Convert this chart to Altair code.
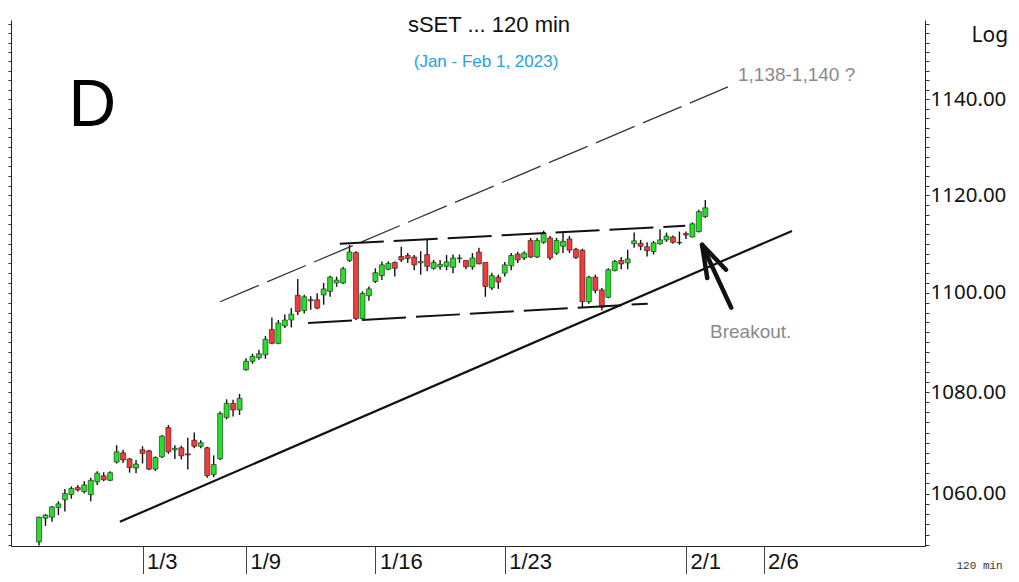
import altair as alt
import pandas as pd

# ---------------- data (120-min bars) ----------------
opens = [1050.6, 1055.2, 1055.4, 1057.3, 1058.8, 1059.8, 1061.2, 1060.4, 1059.8, 1062.3, 1063.5, 1062.6,
         1066.2, 1068.0, 1066.8, 1065.0, 1068.6, 1068.4, 1064.8, 1067.2, 1073.0, 1068.6, 1069.0, 1067.8,
         1070.5, 1069.3, 1069.0, 1063.7, 1066.8, 1075.0, 1077.8, 1076.5, 1084.5, 1086.2, 1086.9, 1087.5,
         1092.6, 1089.8, 1093.3, 1094.5, 1099.5, 1096.4, 1098.6, 1098.6, 1099.6, 1100.3, 1102.0, 1102.0,
         1106.6, 1108.2, 1094.8, 1099.4, 1102.3, 1103.5, 1104.8, 1106.2, 1107.4, 1107.6, 1107.3, 1106.1,
         1107.8, 1105.0, 1105.3, 1105.4, 1105.2, 1107.0, 1106.6, 1105.3, 1108.3, 1106.2, 1101.0, 1103.2,
         1104.0, 1105.5, 1107.9, 1107.1, 1110.7, 1107.3, 1110.3, 1111.2, 1108.1, 1109.5, 1111.0, 1108.9,
         1108.7, 1098.2, 1103.2, 1100.6, 1099.1, 1104.5, 1106.6, 1106.1, 1110.0, 1110.1, 1109.4, 1108.4,
         1110.0, 1110.8, 1111.4, 1110.3, 1112.1, 1111.4, 1112.5, 1115.6]
highs = [1055.5, 1056.0, 1057.6, 1058.5, 1060.9, 1061.4, 1061.7, 1062.4, 1063.1, 1064.4, 1064.2, 1064.4,
         1069.5, 1068.6, 1067.0, 1066.6, 1069.3, 1068.6, 1067.3, 1071.5, 1073.5, 1069.5, 1069.4, 1071.0,
         1072.0, 1070.5, 1069.2, 1067.5, 1076.2, 1078.6, 1078.5, 1079.7, 1086.8, 1087.7, 1088.5, 1091.3,
         1095.0, 1094.5, 1095.6, 1096.9, 1102.8, 1099.6, 1099.3, 1099.9, 1102.0, 1103.5, 1103.3, 1105.3,
         1109.8, 1108.5, 1100.3, 1101.3, 1105.0, 1106.4, 1106.4, 1106.4, 1109.4, 1108.1, 1107.7, 1108.5,
         1111.1, 1106.7, 1106.7, 1107.7, 1107.8, 1107.8, 1106.7, 1108.1, 1109.2, 1106.2, 1104.1, 1103.7,
         1106.3, 1108.1, 1108.4, 1108.5, 1111.2, 1111.2, 1112.7, 1111.6, 1111.2, 1112.5, 1111.6, 1109.2,
         1109.0, 1103.5, 1103.7, 1101.0, 1105.0, 1106.7, 1107.3, 1108.8, 1112.3, 1110.8, 1110.3, 1110.6,
         1113.0, 1112.3, 1111.7, 1112.5, 1112.5, 1114.4, 1117.0, 1119.0]
lows = [1049.9, 1053.7, 1054.5, 1055.8, 1056.5, 1059.0, 1060.4, 1060.0, 1058.5, 1061.7, 1062.4, 1062.4,
        1065.9, 1066.0, 1064.1, 1064.0, 1065.9, 1064.6, 1064.4, 1067.0, 1067.8, 1066.8, 1066.7, 1064.7,
        1068.9, 1068.9, 1063.1, 1063.2, 1066.6, 1074.6, 1075.2, 1075.5, 1084.3, 1085.7, 1086.5, 1086.7,
        1089.6, 1089.6, 1092.9, 1093.0, 1095.5, 1095.8, 1096.6, 1096.7, 1097.6, 1099.2, 1101.2, 1101.8,
        1106.3, 1094.5, 1094.5, 1098.4, 1102.0, 1102.6, 1104.6, 1103.3, 1106.3, 1106.1, 1104.6, 1103.7,
        1104.4, 1104.7, 1104.7, 1104.6, 1104.0, 1106.1, 1104.8, 1104.7, 1105.8, 1099.2, 1100.6, 1100.8,
        1103.3, 1104.6, 1106.1, 1106.7, 1107.1, 1107.1, 1110.0, 1106.7, 1107.7, 1108.1, 1108.1, 1106.9,
        1097.0, 1097.8, 1099.9, 1096.4, 1098.9, 1104.4, 1104.8, 1104.8, 1109.2, 1108.7, 1107.4, 1107.8,
        1109.8, 1110.4, 1110.0, 1109.8, 1111.0, 1111.3, 1112.3, 1115.3]
closes = [1055.4, 1055.8, 1057.4, 1058.0, 1060.0, 1061.0, 1060.7, 1061.7, 1062.6, 1064.0, 1062.7, 1064.1,
          1068.2, 1066.6, 1065.1, 1065.8, 1067.9, 1064.8, 1067.1, 1071.3, 1068.2, 1068.9, 1067.4, 1067.6,
          1069.3, 1070.0, 1063.5, 1065.7, 1075.8, 1077.8, 1076.5, 1078.8, 1086.2, 1087.2, 1087.7, 1090.6,
          1089.8, 1093.9, 1094.5, 1095.7, 1096.2, 1099.2, 1098.4, 1096.9, 1100.8, 1103.2, 1102.6, 1104.9,
          1108.3, 1094.8, 1099.9, 1100.8, 1104.1, 1105.7, 1106.0, 1105.0, 1106.7, 1107.0, 1105.7, 1106.4,
          1105.4, 1106.2, 1105.8, 1106.3, 1107.1, 1107.1, 1105.3, 1107.1, 1105.9, 1101.3, 1103.5, 1102.2,
          1105.7, 1107.6, 1106.7, 1108.1, 1107.3, 1110.7, 1112.2, 1107.1, 1110.7, 1110.5, 1108.7, 1107.2,
          1098.2, 1103.2, 1100.5, 1097.1, 1104.7, 1106.4, 1105.9, 1106.9, 1110.6, 1109.5, 1108.6, 1110.2,
          1110.8, 1111.6, 1110.3, 1110.2, 1111.8, 1114.1, 1116.6, 1117.4]

# session boundaries (bar index of first bar of the day) and their labels
day_tick_index = [16, 32, 52, 72, 100, 112]
day_tick_label = ["1/3", "1/9", "1/16", "1/23", "2/1", "2/6"]

# y-axis tick values
y_tick_values = list(range(1050, 1157, 2))

# drawn trend lines (bar index, price)
support_x = [12.5, 116.4]
support_y = [1054.5, 1112.65]
target_x = [28.0, 106.5]
target_y = [1098.2, 1142.6]
chan_top_x = [46.5, 99.9]
chan_top_y = [1110.0, 1113.7]
chan_bot_x = [41.6, 94.1]
chan_bot_y = [1093.9, 1097.8]

# arrow (segment id, order, bar index, price)
arrow_seg = ["shaft", "shaft", "head", "head", "head"]
arrow_ord = [0, 1, 0, 1, 2]
arrow_x = [107.0, 102.5, 103.3, 102.5, 106.2]
arrow_y = [1097.0, 1109.8, 1103.0, 1109.8, 1104.7]

# ---------------- styling ----------------
GREEN = "#26e026"
RED = "#f23c3c"
SANS = "Liberation Sans, Arial, sans-serif"
AXIS_FONT = "Noto Sans, Open Sans, sans-serif"

X_DOMAIN = [-4.33, 136.96]
Y_DOMAIN = [1049.8, 1156.8]
xscale = alt.Scale(domain=X_DOMAIN, nice=False, zero=False, padding=0)
yscale = alt.Scale(type="log", domain=Y_DOMAIN, nice=False, zero=False)

label_expr = " : ".join(f"datum.value == {v} ? '{t}'" for v, t in zip(day_tick_index, day_tick_label)) + " : ''"

x_axis = alt.Axis(
    values=day_tick_index, labelExpr=label_expr, grid=False,
    tickSize=40, tickColor="#444", tickWidth=1, domainColor="#222", domainWidth=1,
    labelFont=SANS, labelFontSize=22, labelColor="#111", labelAlign="left",
    labelBaseline="top", labelPadding=-35, labelOffset=4, labelFlush=False,
    labelOverlap=False, labelBound=False,
    title="120 min", titleFont="Liberation Mono", titleFontSize=11, titleFontWeight="normal",
    titleColor="#333", titleX=945, titleY=19, titleAlign="left", titleBaseline="middle",
)
right_axis = alt.Axis(
    orient="right", values=y_tick_values,
    labelExpr="datum.value % 20 == 0 ? format(datum.value, '.2f') : ''",
    grid=False, tickSize=4, tickColor="#333", domainColor="#222",
    labelFont=AXIS_FONT, labelFontSize=20.5, labelColor="#111", labelPadding=1,
    labelOverlap=False, labelFlush=False,
    title="Log", titleAngle=0, titleX=46, titleY=4, titleAlign="left", titleBaseline="top",
    titleFont=AXIS_FONT, titleFontSize=21, titleFontWeight="normal", titleColor="#111",
)
left_axis = alt.Axis(
    orient="left", values=y_tick_values, labels=False, grid=False, tickSize=3,
    tickColor="#333", domainColor="#222", title=None,
)

X_ENC = dict(scale=xscale, axis=x_axis)

n = len(opens)
df = pd.DataFrame({"i": list(range(n)), "open": opens, "high": highs, "low": lows, "close": closes})
df["dir"] = ["up" if c >= o else "down" for o, c in zip(opens, closes)]

wicks = alt.Chart(df).mark_rule(color="#111", strokeWidth=1.4).encode(
    x=alt.X("i:Q", **X_ENC),
    y=alt.Y("low:Q", scale=yscale, axis=left_axis),
    y2="high:Q",
)
bodies = alt.Chart(df).mark_bar(width=5, stroke="#1a1a1a", strokeWidth=0.6).encode(
    x=alt.X("i:Q", **X_ENC),
    y=alt.Y("open:Q", scale=yscale, axis=right_axis),
    y2="close:Q",
    color=alt.Color("dir:N", scale=alt.Scale(domain=["up", "down"], range=[GREEN, RED]), legend=None),
)


def trend(xs, ys, width, color, dash=None):
    d = pd.DataFrame({"x": xs, "y": ys})
    kw = dict(color=color, strokeWidth=width)
    if dash:
        kw["strokeDash"] = dash
    return alt.Chart(d).mark_line(**kw).encode(
        x=alt.X("x:Q", **X_ENC),
        y=alt.Y("y:Q", scale=yscale, axis=None),
    )


support = trend(support_x, support_y, 2.2, "#111")
target = trend(target_x, target_y, 1.3, "#333", [42, 9])
chan_top = trend(chan_top_x, chan_top_y, 2.0, "#111", [44, 10])
chan_bot = trend(chan_bot_x, chan_bot_y, 2.0, "#111", [44, 10])

arrow_df = pd.DataFrame({"seg": arrow_seg, "ord": arrow_ord, "x": arrow_x, "y": arrow_y})
arrow = alt.Chart(arrow_df).mark_line(color="#111", strokeWidth=4.5, strokeCap="round", strokeJoin="round").encode(
    x=alt.X("x:Q", **X_ENC),
    y=alt.Y("y:Q", scale=yscale, axis=None),
    detail="seg:N",
    order="ord:Q",
)


def label(text, x, y, font, size, color, align="left", baseline="middle"):
    d = pd.DataFrame({"x": [x], "y": [y], "t": [text]})
    return alt.Chart(d).mark_text(font=font, fontSize=size, color=color, align=align, baseline=baseline).encode(
        x=alt.X("x:Q", **X_ENC),
        y=alt.Y("y:Q", scale=yscale, axis=None),
        text="t:N",
    )


title_t = label("sSET ... 120 min", 69.56, 1155.8, SANS, 22, "#111", align="center")
sub_t = label("(Jan - Feb 1, 2023)", 69.1, 1147.9, SANS, 17, "#29a0e0", align="center")
d_t = label("D", 4.55, 1134.4, SANS, 66, "#000", baseline="alphabetic")
tgt_t = label("1,138-1,140 ?", 108.05, 1145.1, SANS, 19, "#8a8a8a")
brk_t = label("Breakout.", 103.73, 1092.1, SANS, 19, "#8a8a8a")

chart = alt.layer(
    wicks, bodies, support, target, chan_top, chan_bot, arrow, title_t, sub_t, d_t, tgt_t, brk_t
).resolve_scale(y="shared").resolve_axis(y="independent").properties(
    width=914, height=526,
    autosize=alt.AutoSizeParams(type="none"),
    padding={"left": 3, "top": 12, "right": 86, "bottom": 28},
    background="white",
).configure_view(stroke=None)

chart.save("out.html", embed_options={"renderer": "svg", "actions": False})
